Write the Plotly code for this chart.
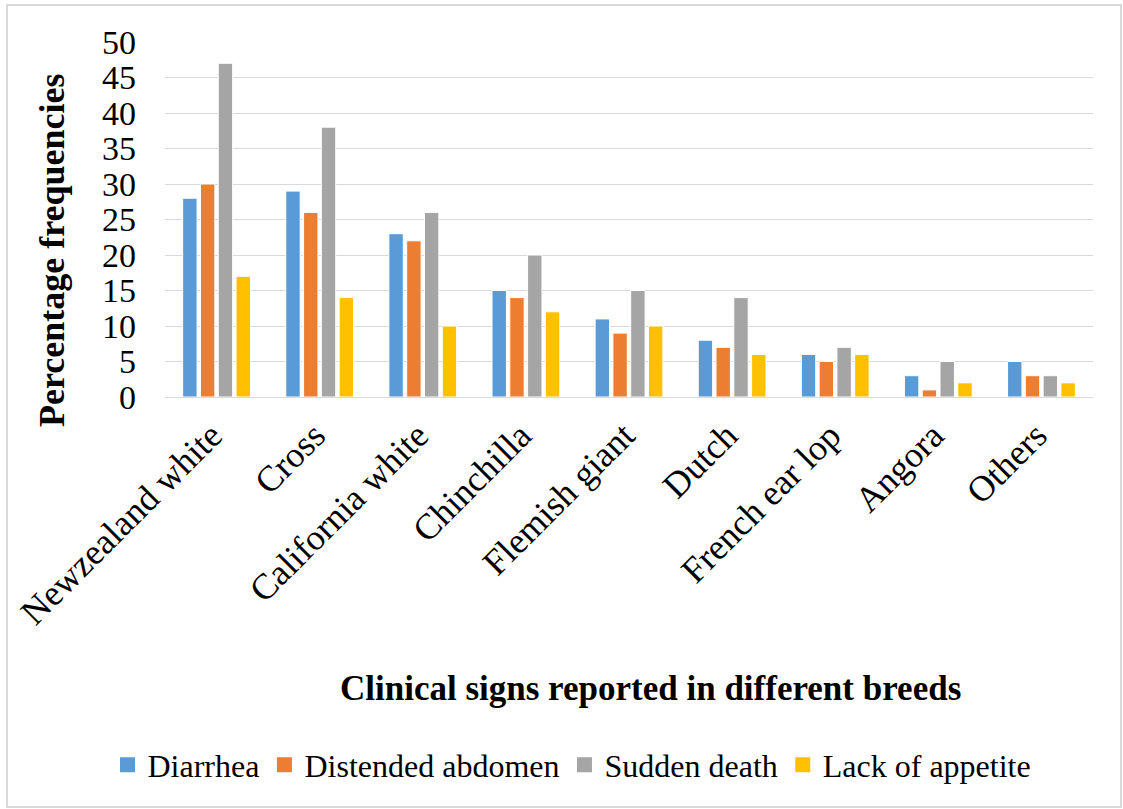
import plotly.graph_objects as go

breeds = ["Newzealand white", "Cross", "California white", "Chinchilla",
          "Flemish giant", "Dutch", "French ear lop", "Angora", "Others"]
diarrhea = [28, 29, 23, 15, 11, 8, 6, 3, 5]
distended_abdomen = [30, 26, 22, 14, 9, 7, 5, 1, 3]
sudden_death = [47, 38, 26, 20, 15, 14, 7, 5, 3]
lack_of_appetite = [17, 14, 10, 12, 10, 6, 6, 2, 2]

series = [
    ("Diarrhea", diarrhea, "#5B9BD5"),
    ("Distended abdomen", distended_abdomen, "#ED7D31"),
    ("Sudden death", sudden_death, "#A5A5A5"),
    ("Lack of appetite", lack_of_appetite, "#FFC000"),
]

FONT = "Liberation Serif"

fig = go.Figure()
for name, vals, col in series:
    fig.add_trace(go.Bar(x=breeds, y=vals, name=name, showlegend=False,
                         marker=dict(color=col, line=dict(color="white", width=1))))
# legend entries (square swatches like the reference)
for name, vals, col in series:
    fig.add_trace(go.Scatter(x=[None], y=[None], mode="markers", name=name,
                             marker=dict(symbol="square", size=15, color=col)))

W, H = 1123, 809
L, R, T, B = 165, 30, 42, 412
pw, ph = W - L - R, H - T - B

def px(x):
    return (x - L) / pw

def py(y):
    return (H - B - y) / ph

fig.update_layout(
    width=W, height=H,
    margin=dict(l=L, r=R, t=T, b=B),
    paper_bgcolor="white", plot_bgcolor="white",
    barmode="group", bargap=0.31, bargroupgap=0.19,
    font=dict(family=FONT, size=32, color="#000000"),
    showlegend=True,
    legend=dict(orientation="h", x=px(572), y=py(765), xanchor="center", yanchor="middle",
                font=dict(family=FONT, size=32, color="#000000"), itemwidth=30,
                bgcolor="rgba(0,0,0,0)"),
    xaxis=dict(tickangle=-45, tickfont=dict(family=FONT, size=36, color="#000000"),
               showgrid=False, showline=True, linecolor="#D9D9D9", linewidth=1, ticks="",
               ticklabelstandoff=2, ticklabelshift=-5),
    yaxis=dict(range=[0, 50], dtick=5, tick0=0, showgrid=True, gridcolor="#D9D9D9",
               gridwidth=1, zeroline=True, zerolinecolor="#D9D9D9", zerolinewidth=1,
               tickfont=dict(family=FONT, size=34, color="#000000"), ticklabelstandoff=28,
               ticks="", showline=False),
    annotations=[
        dict(text="<b>Percentage frequencies</b>", textangle=-90, x=px(52), y=py(250),
             xref="paper", yref="paper", showarrow=False, xanchor="center", yanchor="middle",
             font=dict(family=FONT, size=36, color="#000000")),
        dict(text="<b>Clinical signs reported in different breeds</b>", x=px(650), y=py(688),
             xref="paper", yref="paper", showarrow=False, xanchor="center", yanchor="middle",
             font=dict(family=FONT, size=35, color="#000000")),
    ],
    shapes=[
        dict(type="rect", xref="paper", yref="paper", x0=px(7), x1=px(1121), y0=py(807), y1=py(5),
             line=dict(color="#D9D9D9", width=2), fillcolor="rgba(0,0,0,0)", layer="below"),
    ],
)

fig.write_html("out.html")
